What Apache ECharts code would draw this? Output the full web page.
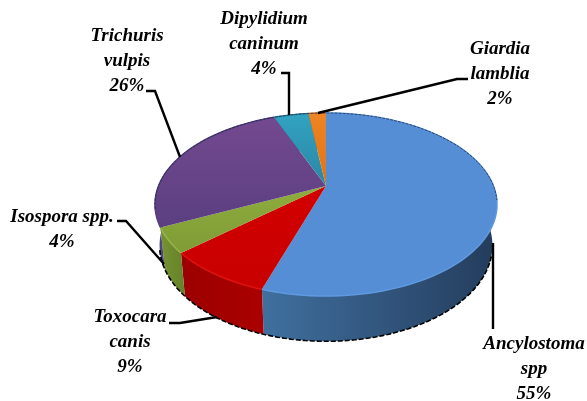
<!DOCTYPE html>
<head>
    <meta charset="utf-8">
    <script src="https://cdn.jsdelivr.net/npm/echarts@6/dist/echarts.min.js"></script>
    <style>html,body{margin:0;background:#fff}</style>
</head>
<body>
	<div id="main" style="width:587px; height:401px"></div>
	<script type="text/javascript">
		var names = ["Ancylostoma\nspp", "Toxocara\ncanis", "Isospora spp.", "Trichuris\nvulpis", "Dipylidium\ncaninum", "Giardia\nlamblia"];
		var values = [55, 8.5, 4.4, 26.1, 4, 2];
		var topColors = [["#558ed5", "#558ed5"], ["#d20000", "#c80000"], ["#8fac3e", "#7f9c36"], ["#74498f", "#5a3f80"], ["#32a3c2", "#2a86a4"], ["#ee8423", "#e0721a"]];
		var rimColors = ["#5f9ae0", "#e01010", "#97b546", "#5a3f80", "#2a86a4", "#e0721a"];
		var wallColors = [["#40709f", "#243c5c"], ["#aa0000", "#9c0000"], ["#66822a", "#769232"], ["#4c4a78", "#4c4a78"], ["#1f6a80", "#1f6a80"], ["#a85510", "#a85510"]];

		// label centre, then leader line
		var labelPos = [[534, 369], [130, 342], [62, 230], [127, 61], [264, 44], [500, 74]];
		var leaders = [
			[[493, 329], [493, 243]],
			[[169, 323], [180, 323], [217, 317]],
			[[117, 221], [126, 221], [164, 264]],
			[[146, 91], [155, 91], [180, 157]],
			[[281, 73], [289, 73], [289, 115]],
			[[468, 79], [457, 79], [318, 113]]
		];

		// disc seen in perspective
		var topDisc = {cx: 326, cy: 186, r: 167.5, s: 87.8, k: 0.202};
		var bottomDisc = {cx: 326, cy: 226, r: 163, s: 92, k: 0.202};

		function project(d, angle) {
			var w = 1 + d.k * Math.cos(angle);
			return [d.cx + d.r * Math.sin(angle) / w, d.cy - d.s * Math.cos(angle) / w];
		}
		function rim(d, from, to) {
			var pts = [];
			var steps = Math.max(2, Math.ceil((to - from) * 90 / Math.PI));
			for (var i = 0; i <= steps; i++) {
				pts.push(project(d, from + (to - from) * i / steps));
			}
			return pts;
		}

		var total = values.reduce(function (a, b) { return a + b; }, 0);
		var sliceData = [];
		var run = 0;
		for (var i = 0; i < values.length; i++) {
			sliceData.push([run / total * 2 * Math.PI, (run + values[i]) / total * 2 * Math.PI, i]);
			run += values[i];
		}

		function renderWall(params, api) {
			var idx = api.value(2);
			var pts = rim(topDisc, api.value(0), api.value(1)).concat(rim(bottomDisc, api.value(0), api.value(1)).reverse());
			return {
				type: "polygon",
				shape: {points: pts},
				style: {
					fill: new echarts.graphic.LinearGradient(idx == 0 ? 1 : 0, 0, idx == 0 ? 0 : 1, 0, [
						{offset: 0, color: wallColors[idx][1]},
						{offset: 1, color: wallColors[idx][0]}
					])
				}
			};
		}
		function renderTop(params, api) {
			var idx = api.value(2);
			var pts = [[topDisc.cx, topDisc.cy]].concat(rim(topDisc, api.value(0), api.value(1)));
			return {
				type: "group",
				children: [
					{type: "polygon", shape: {points: pts},
						style: {
							fill: new echarts.graphic.LinearGradient(0, 0, 0, 1, [
								{offset: 0, color: topColors[idx][0]},
								{offset: 1, color: topColors[idx][1]}
							])
						}},
					{type: "polyline", shape: {points: rim(topDisc, api.value(0), api.value(1))},
						style: {fill: "none", stroke: rimColors[idx], lineWidth: 1.5}}
				]
			};
		}
		function renderEdge(params, api) {
			// rough dark outline round the front of the disc
			return {
				type: "group",
				children: [
					{type: "polyline", shape: {points: rim(bottomDisc, Math.PI * 0.6, Math.PI * 1.42)},
						style: {fill: "none", stroke: "#000", lineWidth: 1.6, lineDash: [5, 2]}},
					{type: "polyline", shape: {points: rim(topDisc, Math.PI * 1.42, Math.PI * 2.55)},
						style: {fill: "none", stroke: "#1a2a50", lineWidth: 0.8, lineDash: [3, 1]}}
				]
			};
		}
		function renderLabel(params, api) {
			var idx = api.value(2);
			return {
				type: "group",
				children: [
					{type: "polyline", shape: {points: leaders[idx]},
						style: {fill: "none", stroke: "#000", lineWidth: 2.4}},
					{type: "text", x: labelPos[idx][0], y: labelPos[idx][1],
						style: {
							text: names[idx] + "\n" + Math.round(values[idx]) + "%",
							font: "italic bold 19px 'Liberation Serif'",
							fill: "#000", align: "center", verticalAlign: "middle", lineHeight: 25
						}}
				]
			};
		}

		var myChart = echarts.init(document.getElementById("main"));
		var option = {
			animation: false,
			series: [
				{type: "custom", coordinateSystem: "none", renderItem: renderWall, data: sliceData, z: 1, silent: true},
				{type: "custom", coordinateSystem: "none", renderItem: renderTop, data: sliceData, z: 2, silent: true},
				{type: "custom", coordinateSystem: "none", renderItem: renderEdge, data: [[0, 0, 0]], z: 3, silent: true},
				{type: "custom", coordinateSystem: "none", renderItem: renderLabel, data: sliceData, z: 4, silent: true}
			]
		};
		myChart.setOption(option);
	</script>
</body>
